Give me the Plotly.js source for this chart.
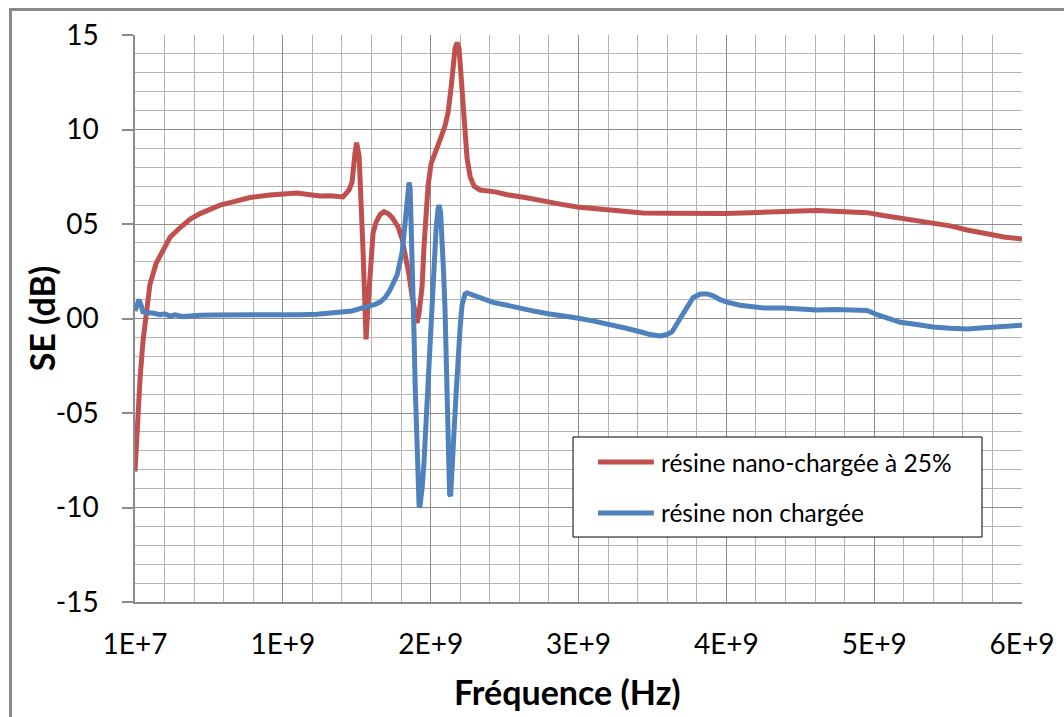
<!DOCTYPE html>
<html>
<head>
<meta charset="utf-8">
<script src="https://cdn.plot.ly/plotly-3.0.1.min.js"></script>
<style>
body{margin:0;background:#fff;}
#wrap{position:relative;width:1064px;height:717px;overflow:hidden;background:#fff;}
#frame{position:absolute;left:9px;top:8px;width:1200px;height:900px;border:3px solid #8a8a8a;box-sizing:border-box;}
#chart{position:absolute;left:0;top:0;width:1064px;height:717px;}
</style>
</head>
<body>
<div id="wrap"><div id="frame"></div><div id="chart"></div></div>
<script>
// Series names
const seriesNames = ["résine nano-chargée à 25%", "résine non chargée"];
const seriesColors = ["#C0504D", "#4F81BD"];

// Axis titles
const xTitle = "Fréquence (Hz)";
const yTitle = "SE (dB)";

// Frequencies in GHz and SE in dB - résine nano-chargée à 25%
const freqNanoGHz = [0.010,0.024,0.044,0.064,0.084,0.111,0.152,0.199,0.247,0.314,0.382,0.450,0.517,0.585,0.687,0.788,0.923,1.025,1.106,1.194,1.262,1.329,1.417,1.458,1.478,1.499,1.509,1.526,1.539,1.553,1.566,1.573,1.583,1.593,1.607,1.620,1.641,1.668,1.695,1.722,1.749,1.790,1.817,1.837,1.864,1.884,1.905,1.918,1.932,1.952,1.965,1.979,1.992,2.013,2.047,2.080,2.107,2.128,2.148,2.162,2.175,2.189,2.202,2.216,2.229,2.243,2.256,2.277,2.304,2.344,2.446,2.527,2.649,2.771,2.886,3.001,3.122,3.224,3.325,3.447,3.630,3.833,4.002,4.171,4.340,4.509,4.624,4.746,4.848,4.963,5.071,5.186,5.287,5.409,5.524,5.639,5.727,5.795,5.896,6.010];
const seNano = [-8.1,-5.5,-3.2,-1.2,0.3,1.8,2.9,3.6,4.3,4.8,5.25,5.55,5.8,6.0,6.2,6.4,6.53,6.6,6.64,6.55,6.48,6.5,6.43,6.8,7.2,8.8,9.3,8.6,6.5,3.5,0.5,-1.1,0.3,1.7,3.3,4.5,5.1,5.5,5.65,5.55,5.35,4.84,4.2,3.47,2.3,1.2,0.2,-0.24,0.3,1.7,3.8,5.6,7.0,8.2,9.0,9.6,10.2,10.9,12.2,13.6,14.3,14.6,14.3,12.8,10.9,9.9,8.5,7.5,7.0,6.8,6.7,6.55,6.4,6.2,6.05,5.9,5.8,5.7,5.63,5.58,5.57,5.53,5.55,5.6,5.62,5.69,5.72,5.68,5.65,5.6,5.45,5.32,5.2,5.05,4.9,4.68,4.55,4.42,4.3,4.21];

// Frequencies in GHz and SE in dB - résine non chargée
const freqNonGHz = [0.010,0.024,0.037,0.051,0.064,0.091,0.132,0.179,0.213,0.247,0.281,0.335,0.382,0.450,0.538,0.653,0.768,0.890,0.991,1.126,1.241,1.329,1.417,1.478,1.532,1.587,1.634,1.668,1.702,1.735,1.762,1.783,1.803,1.817,1.830,1.844,1.857,1.864,1.871,1.877,1.884,1.891,1.898,1.905,1.918,1.925,1.932,1.938,1.952,1.965,1.979,1.992,2.006,2.020,2.033,2.047,2.060,2.067,2.077,2.087,2.097,2.107,2.114,2.121,2.128,2.138,2.145,2.155,2.168,2.182,2.195,2.209,2.222,2.243,2.256,2.290,2.344,2.432,2.527,2.615,2.716,2.804,2.906,3.001,3.122,3.224,3.325,3.427,3.494,3.562,3.609,3.643,3.677,3.711,3.745,3.785,3.833,3.880,3.921,3.968,4.015,4.103,4.171,4.273,4.394,4.509,4.624,4.746,4.848,4.963,5.030,5.118,5.186,5.287,5.409,5.524,5.639,5.727,5.795,5.896,6.010];
const seNon = [0.4,0.8,1.0,0.7,0.35,0.3,0.29,0.2,0.25,0.12,0.2,0.1,0.15,0.17,0.19,0.18,0.19,0.16,0.18,0.2,0.22,0.28,0.34,0.4,0.52,0.62,0.75,0.87,1.1,1.5,1.9,2.3,3.0,3.5,4.5,5.6,6.7,7.2,6.9,5.5,3.5,1.7,-1.0,-3.5,-7.0,-9.0,-10.0,-9.9,-9.0,-7.6,-5.5,-3.0,-0.6,1.5,3.2,4.8,5.8,6.0,5.6,4.5,2.5,0.5,-2.0,-4.5,-7.2,-9.3,-9.4,-8.3,-6.0,-4.0,-2.0,-0.5,0.7,1.3,1.35,1.25,1.08,0.85,0.7,0.52,0.38,0.25,0.15,0.03,-0.15,-0.3,-0.5,-0.7,-0.85,-0.92,-0.85,-0.7,-0.3,0.2,0.6,1.1,1.3,1.3,1.2,1.0,0.87,0.7,0.62,0.55,0.55,0.48,0.45,0.47,0.45,0.42,0.2,0.0,-0.2,-0.3,-0.45,-0.52,-0.56,-0.5,-0.45,-0.4,-0.35];

// Axis ticks
const xTickValsGHz = [0.01, 1.01, 2.01, 3.01, 4.01, 5.01, 6.01];
const xTickText = ["1E+7", "1E+9", "2E+9", "3E+9", "4E+9", "5E+9", "6E+9"];
const yTickVals = [-15, -10, -5, 0, 5, 10, 15];
const yTickText = ["-15", "-10", "-05", "00", "05", "10", "15"];

const GHZ = 1e9;
const toHz = a => a.map(v => v * GHZ);

// minor grid positions: every 0.2 GHz on x, every 1 dB on y
const xMinor = [];
for (let k = 0; k <= 30; k++) xMinor.push((0.01 + 0.2 * k) * GHZ);
const yMinor = [];
for (let k = -15; k <= 15; k++) yMinor.push(k);

const FONT = "Lato, 'Open Sans', 'DejaVu Sans', sans-serif";

const traces = [
  {x: toHz(freqNanoGHz), y: seNano, name: seriesNames[0], type: 'scatter', mode: 'lines',
   line: {color: seriesColors[0], width: 5}, showlegend: false},
  {x: toHz(freqNonGHz), y: seNon, name: seriesNames[1], type: 'scatter', mode: 'lines',
   line: {color: seriesColors[1], width: 5}, showlegend: false}
];

// custom legend box (paper coordinates)
const lgX0 = 0.4938, lgX1 = 0.9549, lgY0 = 0.1146, lgY1 = 0.2910;
const lgRows = [0.2469, 0.157];
const shapes = [
  {type: 'rect', xref: 'paper', yref: 'paper', x0: lgX0, x1: lgX1, y0: lgY0, y1: lgY1,
   line: {color: '#000', width: 1}, fillcolor: '#fff', layer: 'above'}
];
const annotations = [];
seriesNames.forEach((n, i) => {
  shapes.push({type: 'line', xref: 'paper', yref: 'paper', x0: 0.522, x1: 0.585, y0: lgRows[i], y1: lgRows[i],
    line: {color: seriesColors[i], width: 5}, layer: 'above'});
  annotations.push({xref: 'paper', yref: 'paper', x: 0.5908, y: lgRows[i], xanchor: 'left', yanchor: 'middle',
    text: n, showarrow: false, font: {family: FONT, size: 24.5, color: '#000'}});
});
// axis titles
annotations.push({xref: 'paper', yref: 'paper', x: 0.488, y: -0.1587, xanchor: 'center', yanchor: 'middle',
  text: xTitle, showarrow: false, font: {family: FONT, size: 34, weight: 'bold', color: '#000'}});
annotations.push({xref: 'paper', yref: 'paper', x: -0.105, y: 0.5, xanchor: 'center', yanchor: 'middle', textangle: -90,
  text: yTitle, showarrow: false, font: {family: FONT, size: 34, weight: 'bold', color: '#000'}});

const layout = {
  width: 1064, height: 717,
  margin: {l: 135, r: 42, t: 35, b: 115},
  paper_bgcolor: 'rgba(0,0,0,0)',
  plot_bgcolor: '#fff',
  font: {family: FONT, color: '#000'},
  showlegend: false,
  xaxis: {
    range: [0.01 * GHZ, 6.01 * GHZ],
    tickmode: 'array', tickvals: toHz(xTickValsGHz), ticktext: xTickText,
    tickfont: {family: FONT, size: 28, color: '#000'},
    ticks: '', showgrid: true, gridcolor: '#8c8c8c', gridwidth: 1.3,
    minor: {tickmode: 'array', tickvals: xMinor, showgrid: true, gridcolor: '#b4b4b4', gridwidth: 1.3, ticks: ''},
    showline: true, linecolor: '#8c8c8c', linewidth: 2, zeroline: false,
    ticklabelstandoff: 16
  },
  yaxis: {
    range: [-15, 15],
    tickmode: 'array', tickvals: yTickVals, ticktext: yTickText,
    tickfont: {family: FONT, size: 28, color: '#000'},
    ticks: 'outside', ticklen: 11, tickcolor: '#8c8c8c', tickwidth: 1.5,
    showgrid: true, gridcolor: '#8c8c8c', gridwidth: 1.3,
    minor: {tickmode: 'array', tickvals: yMinor, showgrid: true, gridcolor: '#b4b4b4', gridwidth: 1.3, ticks: ''},
    showline: true, linecolor: '#8c8c8c', linewidth: 1.5, zeroline: false,
    ticklabelstandoff: 18
  },
  shapes: shapes,
  annotations: annotations
};

Plotly.newPlot('chart', traces, layout, {displayModeBar: false, responsive: false});
</script>
</body>
</html>
